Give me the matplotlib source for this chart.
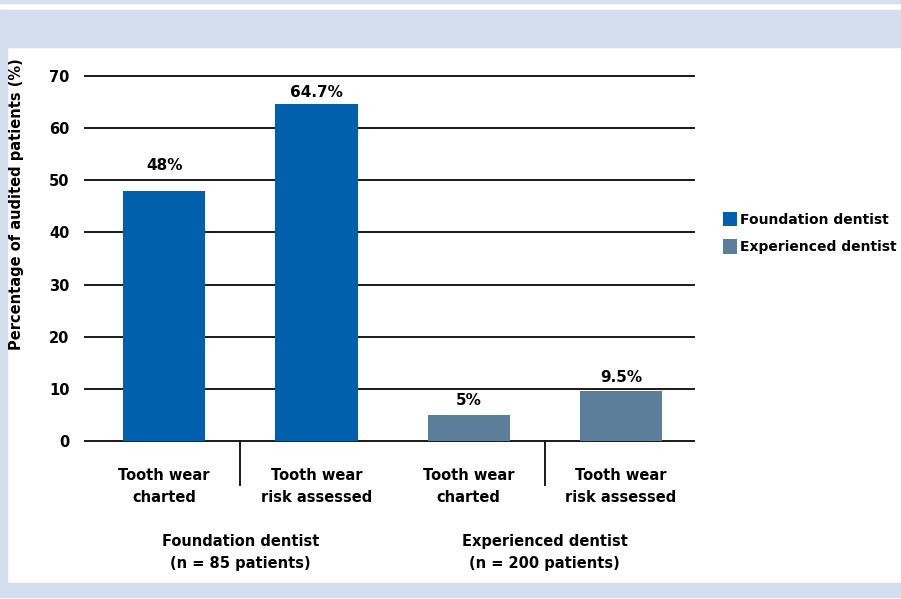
import matplotlib.pyplot as plt
from matplotlib.patches import Rectangle, Patch
from matplotlib.transforms import blended_transform_factory

# audit results, % of audited patients
categories = ["Tooth wear\ncharted", "Tooth wear\nrisk assessed",
              "Tooth wear\ncharted", "Tooth wear\nrisk assessed"]
values = [48, 64.7, 5, 9.5]
value_labels = ["48%", "64.7%", "5%", "9.5%"]
groups = ["Foundation dentist\n(n = 85 patients)",
          "Experienced dentist\n(n = 200 patients)"]
series = ["Foundation dentist", "Experienced dentist"]
yticks = [0, 10, 20, 30, 40, 50, 60, 70]

BLUE = "#0060AC"
GREY = "#5B7F9B"
FRAME = "#D4DEEE"
colors = [BLUE, BLUE, GREY, GREY]
label_gap = [18, 4, 7, 6]       # px between bar top and its value label

plt.rcParams['font.family'] = ['DejaVu Sans']
plt.rcParams['font.weight'] = 'bold'

W, H = 901, 599
fig = plt.figure(figsize=(W / 100, H / 100), dpi=100)
fig.patch.set_facecolor("white")

def px_rect(x0, y0, x1, y1):
    # rectangle given in pixel coords measured from the top-left
    fig.patches.append(Rectangle((x0 / W, 1 - y1 / H), (x1 - x0) / W, (y1 - y0) / H,
                                 transform=fig.transFigure, color=FRAME, zorder=0))

px_rect(0, 0, W, 3)
px_rect(0, 10, W, 47)
px_rect(0, 10, 7, 585)
px_rect(0, 583, W, 597)

ax = fig.add_axes([85 / W, 158 / H, 609 / W, 365 / H])
ax.set_xlim(-0.52, 3.48)
ax.set_ylim(0, 70)
for s in ax.spines.values():
    s.set_visible(False)

for y in yticks:
    ax.axhline(y, color="#1a1a1a", lw=1.4, zorder=1, clip_on=False)

x = range(len(values))
bars = ax.bar(x, values, width=0.54, color=colors, zorder=2)
for b, lab, gap in zip(bars, value_labels, label_gap):
    ax.annotate(lab, (b.get_x() + b.get_width() / 2, b.get_height()),
                xytext=(0, gap * 0.72), textcoords="offset points",
                ha="center", va="bottom", fontsize=11, fontweight="bold")

ax.set_yticks(yticks)
ax.set_yticklabels([str(v) for v in yticks], fontsize=10.5, fontweight="bold")
ax.tick_params(axis="y", length=0, pad=11)
ax.set_xticks([])

# separators below the axis inside each group
trans = blended_transform_factory(ax.transData, ax.transAxes)
for xs in (0.5, 2.5):
    ax.plot([xs, xs], [0, -0.12], color="#1a1a1a", lw=1.4, transform=trans,
            clip_on=False)

for i, cat in enumerate(categories):
    ax.text(i, -0.075, cat, transform=trans, ha="center", va="top",
            fontsize=10.5, fontweight="bold", linespacing=1.55)
for g, xc in zip(groups, (0.5, 2.5)):
    ax.text(xc, -0.255, g, transform=trans, ha="center", va="top",
            fontsize=10.5, fontweight="bold", linespacing=1.55)

fig.text(17 / W, 1 - 204 / H, "Percentage of audited patients (%)", rotation=90,
         ha="center", va="center", fontsize=10.5, fontweight="bold")

handles = [Patch(facecolor=BLUE), Patch(facecolor=GREY)]
fig.legend(handles, series, loc="center left", bbox_to_anchor=(716 / W, 1 - 233 / H),
           frameon=False, fontsize=10, handlelength=1.0, handleheight=1.25,
           handletextpad=0.2, labelspacing=0.9, borderpad=0)

fig.savefig("out.png", dpi=100)
